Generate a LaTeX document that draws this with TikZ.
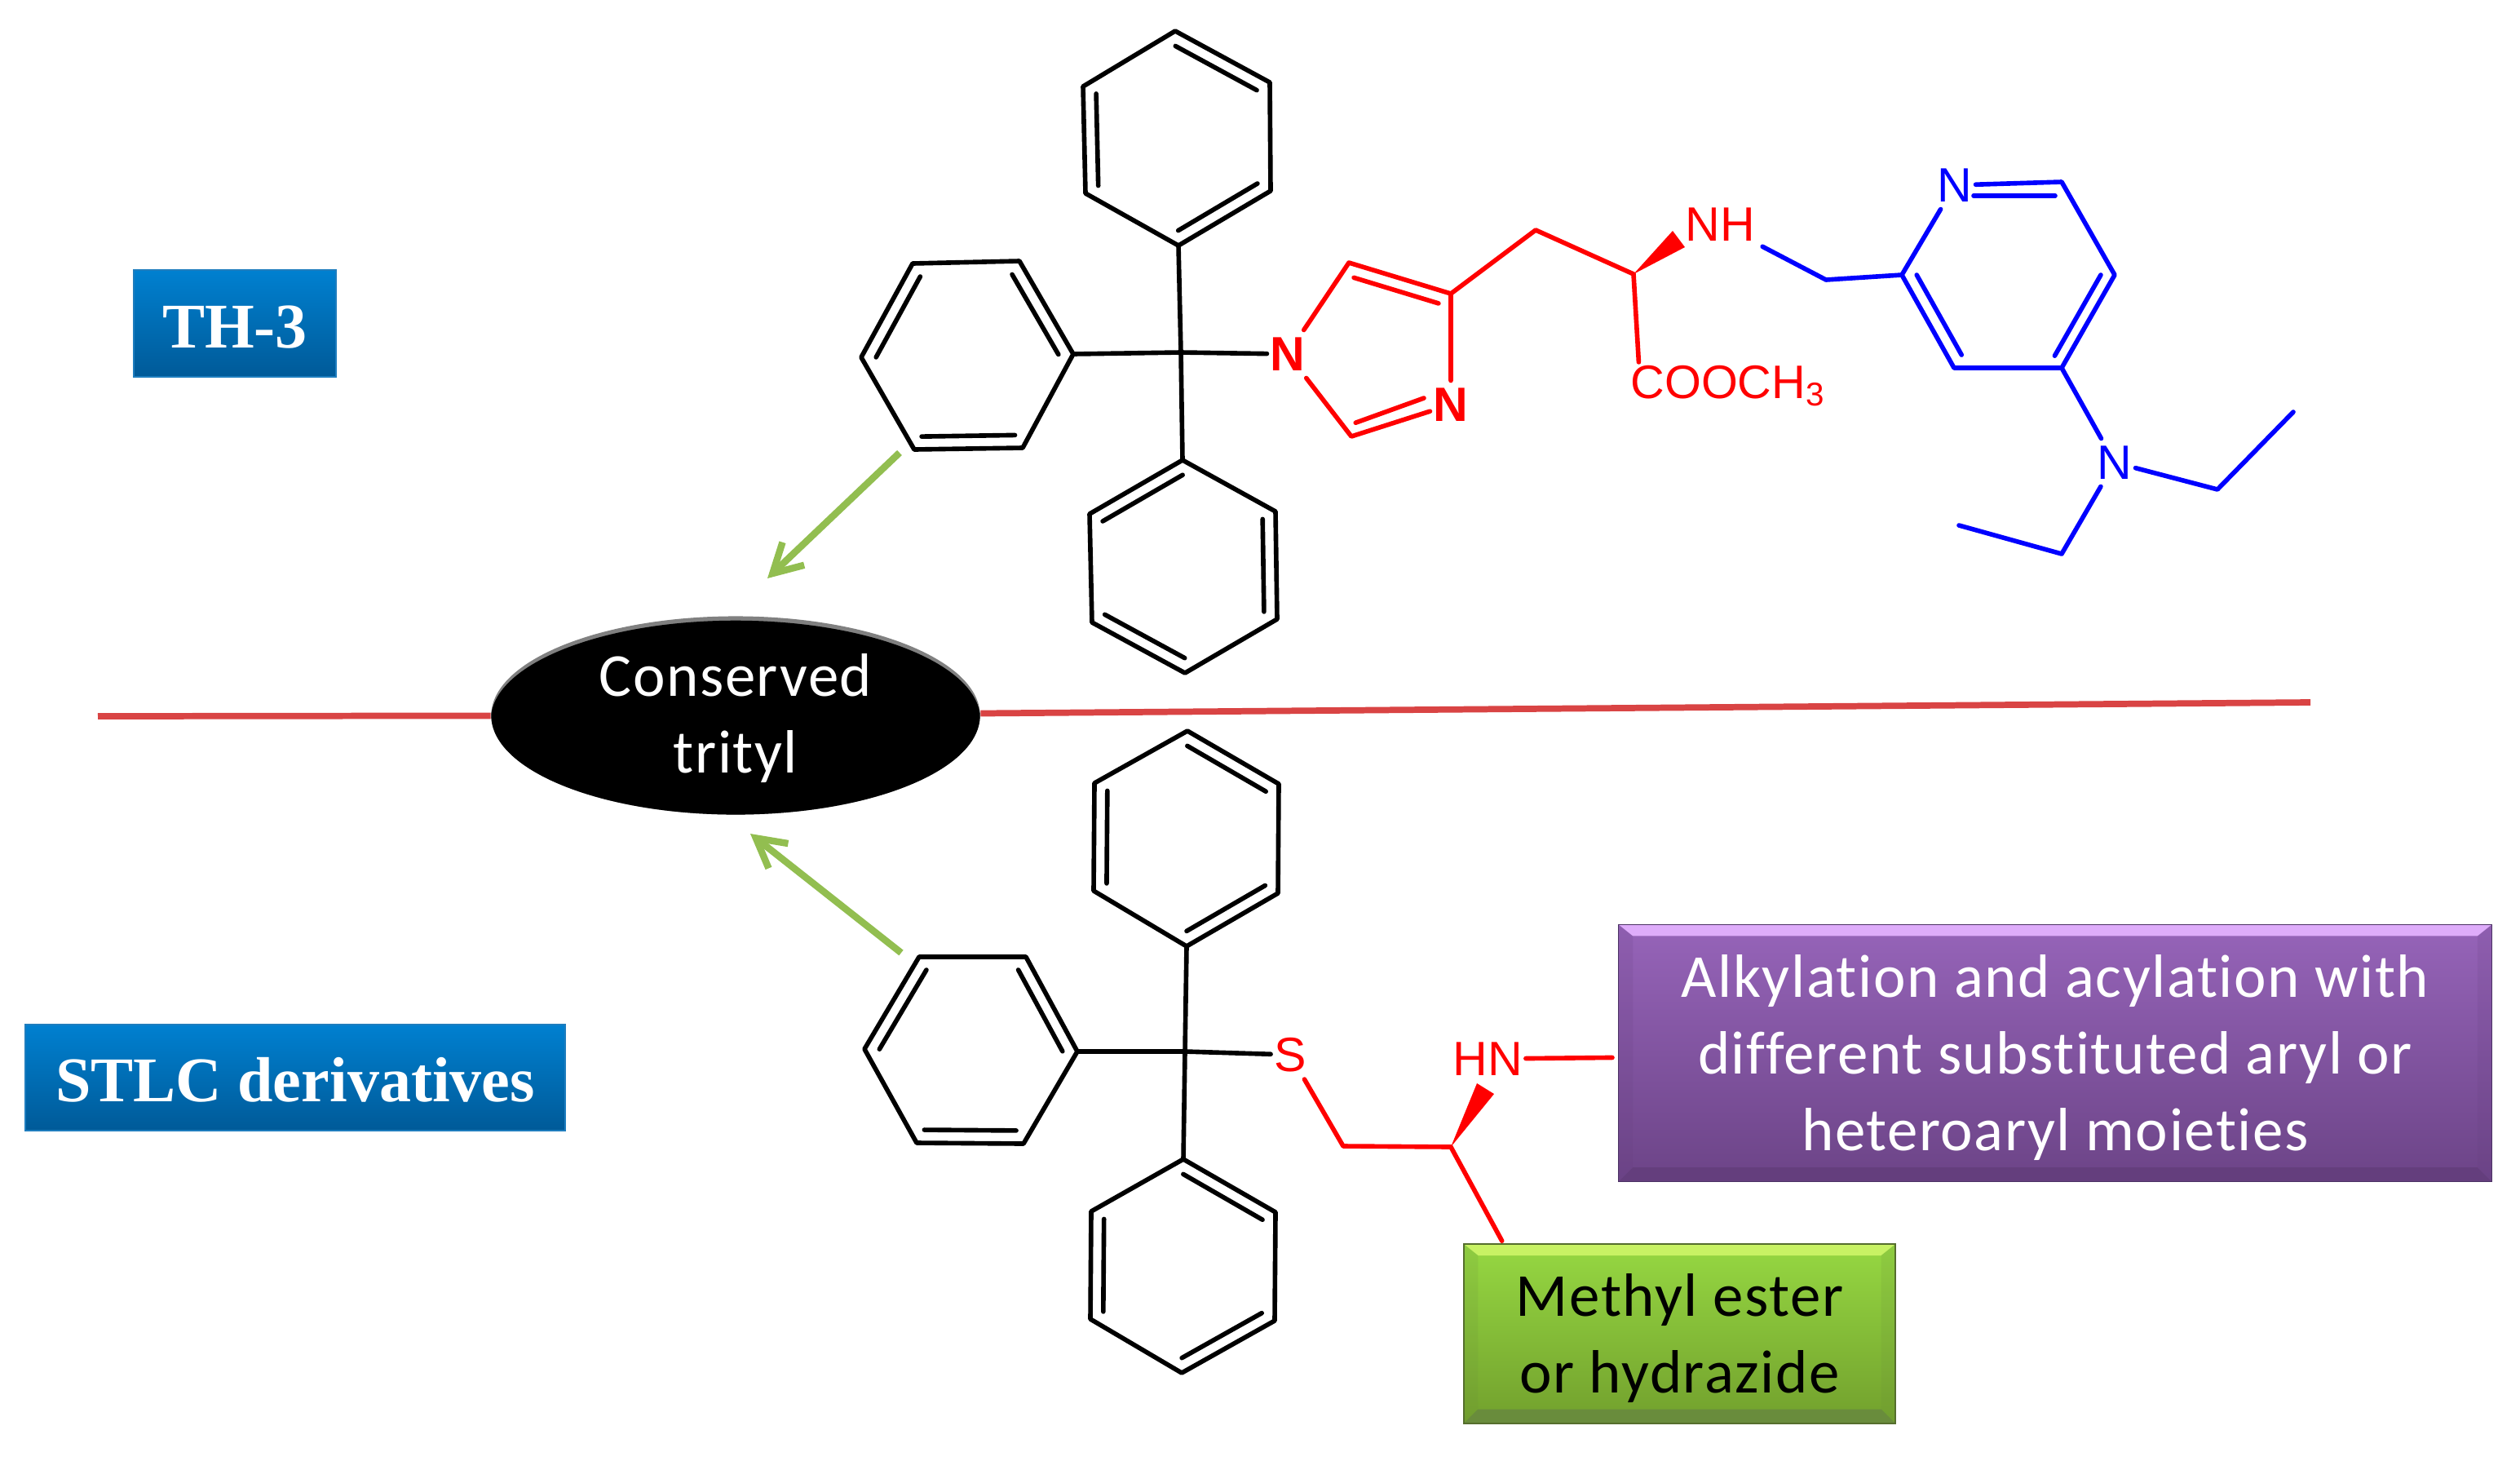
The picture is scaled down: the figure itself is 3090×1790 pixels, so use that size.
\documentclass[tikz,border=0pt]{standalone}
\usepackage{fontspec}
\setmainfont[LetterSpace=2.1,Ligatures=NoCommon]{Carlito}
\newfontfamily\molfont{Liberation Sans}
\newfontfamily\tagfont{Liberation Serif}
\usetikzlibrary{calc,shapes.geometric,arrows.meta}
\definecolor{divred}{RGB}{217,68,68}
\definecolor{arrowgreen}{RGB}{146,190,80}
\definecolor{purered}{RGB}{255,0,0}
\definecolor{pureblue}{RGB}{0,0,255}
\definecolor{tagtop}{RGB}{0,128,208}
\definecolor{tagbottom}{RGB}{0,90,152}
\definecolor{tagedge}{RGB}{30,125,190}
\definecolor{plumtop}{RGB}{150,100,185}
\definecolor{plumbottom}{RGB}{108,68,135}
\definecolor{plumlight}{RGB}{222,172,250}
\definecolor{plumdark}{RGB}{100,62,125}
\definecolor{plumedge}{RGB}{75,50,100}
\definecolor{limetop}{RGB}{150,216,66}
\definecolor{limebottom}{RGB}{114,160,45}
\definecolor{limelight}{RGB}{200,242,100}
\definecolor{limedark}{RGB}{105,140,60}
\definecolor{limeedge}{RGB}{85,110,45}

\begin{document}
\begin{tikzpicture}[x=0.01cm, y=-0.01cm,
        bond/.style = {line width=1.6pt, line cap=round, line join=round, draw=black},
        redbond/.style = {bond, draw=purered},
        bluebond/.style = {bond, draw=pureblue},
        atom/.style = {font=\molfont\fontsize{16.8}{16.8}\selectfont, inner xsep=1pt, inner ysep=2.4pt},
        redatom/.style = {atom, text=purered},
        blueatom/.style = {atom, text=pureblue},
        boldatom/.style = {redatom, font=\molfont\bfseries\fontsize{16.8}{16.8}\selectfont},
        tagbox/.style = {rectangle, draw=tagedge, line width=0.4pt, top color=tagtop, bottom color=tagbottom, text=white, text height=17pt, font=\tagfont\bfseries\fontsize{22.2}{24}\selectfont},
        bevelled/.style 2 args = {path picture={
            \fill[#1] (path picture bounding box.north west) -- (path picture bounding box.north east) -- ([xshift=-5pt,yshift=-4pt]path picture bounding box.north east) -- ([xshift=5pt,yshift=-4pt]path picture bounding box.north west) -- cycle;
            \fill[#2] (path picture bounding box.south west) -- (path picture bounding box.south east) -- ([xshift=-5pt,yshift=5pt]path picture bounding box.south east) -- ([xshift=5pt,yshift=5pt]path picture bounding box.south west) -- cycle;
            \fill[#2, opacity=0.15] (path picture bounding box.north west) -- ([xshift=5pt,yshift=-4pt]path picture bounding box.north west) -- ([xshift=5pt,yshift=5pt]path picture bounding box.south west) -- (path picture bounding box.south west) -- cycle;
            \fill[#2, opacity=0.15] (path picture bounding box.north east) -- ([xshift=-5pt,yshift=-4pt]path picture bounding box.north east) -- ([xshift=-5pt,yshift=5pt]path picture bounding box.south east) -- (path picture bounding box.south east) -- cycle;}},
        notebox/.style = {rectangle, align=center, inner sep=0pt, font=\fontsize{21.3}{26.8}\selectfont},
        divider/.style = {draw=divred, line width=2.2pt},
        pointer/.style = {draw=arrowgreen, line width=2.4pt, -{Straight Barb[length=10pt,width=11pt,line width=2.4pt]}}]
    \useasboundingbox (0,0) rectangle (3090,1790);

    \node[tagbox, minimum width=2.48cm, minimum height=1.31cm] (th3) at (288,396.5) {TH-3};
    \node[tagbox, minimum width=6.62cm, minimum height=1.30cm] (stlc) at (362,1321) {STLC derivatives};
    \node[notebox, ellipse, fill=black!50, text=white, minimum width=5.99cm, minimum height=2.43cm, path picture={\fill[black] ([yshift=-1.5pt]path picture bounding box.center) ellipse [x radius=3.0cm, y radius=1.215cm];}] (trityl) at (902,877) {\rule{0pt}{16.8pt}Conserved\\trityl};
    \node[notebox, text=white, draw=plumedge, top color=plumtop, bottom color=plumbottom, bevelled={plumlight}{plumdark}, minimum width=10.70cm, minimum height=3.15cm] (purple) at (2520,1291) {\rule{0pt}{17.8pt}Alkylation and acylation with\\different substituted aryl or\\heteroaryl moieties};
    \node[notebox, text=black, draw=limeedge, top color=limetop, bottom color=limebottom, bevelled={limelight}{limedark}, minimum width=5.29cm, minimum height=2.20cm] (green) at (2059.5,1635) {\rule{0pt}{17.8pt}Methyl ester\\or hydrazide};

    \coordinate (la) at (120,878);
    \coordinate (lb) at (2833,861);
    \draw[divider] (la) -- (trityl) -- (lb);
    \coordinate (g1) at (1103,555);
    \coordinate (g2) at (941,709);
    \coordinate (g3) at (1105,1168);
    \coordinate (g4) at (920,1022);
    \draw[pointer] (g1) -- (g2);
    \draw[pointer] (g3) -- (g4);

    \coordinate (c1) at (1448,432);
    \coordinate (tc) at (1443,169.5);
    \coordinate (t1) at (1441,38); \coordinate (t2) at (1557,101); \coordinate (t3) at (1558,234);
    \coordinate (t4) at (1445,301); \coordinate (t5) at (1331,237); \coordinate (t6) at (1328,106);
    \draw[bond] (t1) -- (t2) -- (t3) -- (t4) -- (t5) -- (t6) -- cycle;
    \draw[bond] ($(tc)!.86!(t1)$) -- ($(tc)!.86!(t2)$);
    \draw[bond] ($(tc)!.86!(t3)$) -- ($(tc)!.86!(t4)$);
    \draw[bond] ($(tc)!.86!(t5)$) -- ($(tc)!.86!(t6)$);
    \coordinate (lc) at (1186,437.5);
    \coordinate (l1) at (1119,323); \coordinate (l2) at (1250,320); \coordinate (l3) at (1316,434);
    \coordinate (l4) at (1254,549); \coordinate (l5) at (1121,551); \coordinate (l6) at (1056,438);
    \draw[bond] (l1) -- (l2) -- (l3) -- (l4) -- (l5) -- (l6) -- cycle;
    \draw[bond] ($(lc)!.86!(l2)$) -- ($(lc)!.86!(l3)$);
    \draw[bond] ($(lc)!.86!(l4)$) -- ($(lc)!.86!(l5)$);
    \draw[bond] ($(lc)!.86!(l6)$) -- ($(lc)!.86!(l1)$);
    \coordinate (bc) at (1451,694);
    \coordinate (b1) at (1450,564); \coordinate (b2) at (1564,627); \coordinate (b3) at (1566,759);
    \coordinate (b4) at (1453,825); \coordinate (b5) at (1339,763); \coordinate (b6) at (1336,630);
    \draw[bond] (b1) -- (b2) -- (b3) -- (b4) -- (b5) -- (b6) -- cycle;
    \draw[bond] ($(bc)!.86!(b2)$) -- ($(bc)!.86!(b3)$);
    \draw[bond] ($(bc)!.86!(b4)$) -- ($(bc)!.86!(b5)$);
    \draw[bond] ($(bc)!.86!(b6)$) -- ($(bc)!.86!(b1)$);

    \node[boldatom] (n1) at (1579,434) {N};
    \node[boldatom] (n3) at (1779,496) {N};
    \node[redatom, inner xsep=2.5pt] (nh) at (2109,275) {NH};
    \node[redatom, inner sep=1pt, font=\molfont\fontsize{16.4}{16.4}\selectfont] (cooch) at (2119,473) {COOCH\textsubscript{3}};
    \coordinate (im) at (1690,430);
    \coordinate (c5) at (1654,322); \coordinate (c4) at (1779,360); \coordinate (c2) at (1657,535);
    \coordinate (c6) at (1883,282); \coordinate (c7) at (2003,336);
    \coordinate (i1) at (1746,488); \coordinate (w1) at (2051,283); \coordinate (w2) at (2066,303);
    \draw[bond] (t4) -- (c1);
    \draw[bond] (l3) -- (c1);
    \draw[bond] (b1) -- (c1);
    \draw[bond] (c1) -- (n1);
    \draw[redbond] (n1) -- (c5) -- (c4) -- (n3);
    \draw[redbond] (n1) -- (c2) -- (n3);
    \draw[redbond] ($(im)!.83!(c5)$) -- ($(im)!.83!(c4)$);
    \draw[redbond] ($(im)!.84!(c2)$) -- (i1);
    \draw[redbond] (c4) -- (c6) -- (c7);
    \draw[redbond] (c7) -- ([xshift=4pt]cooch.north west);
    \fill[purered] (c7) -- (w1) -- (w2) -- cycle;

    \node[blueatom] (py) at (2397,227) {N};
    \node[blueatom] (na) at (2593,567) {N};
    \coordinate (pc) at (2462,337);
    \coordinate (p2) at (2332,337); \coordinate (p3) at (2396,451); \coordinate (p4) at (2528,451);
    \coordinate (p5) at (2593,337); \coordinate (p6) at (2528,223);
    \coordinate (q1) at (2420,240); \coordinate (q2) at (2520,240);
    \coordinate (d1) at (2239,343);
    \coordinate (e1) at (2719,600); \coordinate (e2) at (2812,505);
    \coordinate (e3) at (2528,679); \coordinate (e4) at (2402,644);
    \draw[bluebond] (nh) -- (d1) -- (p2);
    \draw[bluebond] (py) -- (p2) -- (p3) -- (p4) -- (p5) -- (p6) -- (py);
    \draw[bluebond] (q1) -- (q2);
    \draw[bluebond] ($(pc)!.86!(p2)$) -- ($(pc)!.86!(p3)$);
    \draw[bluebond] ($(pc)!.87!(p4)$) -- ($(pc)!.87!(p5)$);
    \draw[bluebond] (p4) -- (na);
    \draw[bluebond] (na) -- (e1) -- (e2);
    \draw[bluebond] (na) -- (e3) -- (e4);

    \coordinate (c9) at (1453,1289);
    \coordinate (uc) at (1455,1027);
    \coordinate (u1) at (1456,896); \coordinate (u2) at (1568,961); \coordinate (u3) at (1567,1095);
    \coordinate (u4) at (1455,1160); \coordinate (u5) at (1341,1092); \coordinate (u6) at (1342,960);
    \draw[bond] (u1) -- (u2) -- (u3) -- (u4) -- (u5) -- (u6) -- cycle;
    \draw[bond] ($(uc)!.86!(u1)$) -- ($(uc)!.86!(u2)$);
    \draw[bond] ($(uc)!.86!(u3)$) -- ($(uc)!.86!(u4)$);
    \draw[bond] ($(uc)!.86!(u5)$) -- ($(uc)!.86!(u6)$);
    \coordinate (vc) at (1191,1287);
    \coordinate (v1) at (1127,1173); \coordinate (v2) at (1258,1173); \coordinate (v3) at (1321,1289);
    \coordinate (v4) at (1255,1402); \coordinate (v5) at (1124,1401); \coordinate (v6) at (1060,1286);
    \draw[bond] (v1) -- (v2) -- (v3) -- (v4) -- (v5) -- (v6) -- cycle;
    \draw[bond] ($(vc)!.86!(v2)$) -- ($(vc)!.86!(v3)$);
    \draw[bond] ($(vc)!.86!(v4)$) -- ($(vc)!.86!(v5)$);
    \draw[bond] ($(vc)!.86!(v6)$) -- ($(vc)!.86!(v1)$);
    \coordinate (xc) at (1450,1552);
    \coordinate (x1) at (1451,1421); \coordinate (x2) at (1564,1486); \coordinate (x3) at (1563,1619);
    \coordinate (x4) at (1449,1683); \coordinate (x5) at (1337,1617); \coordinate (x6) at (1338,1485);
    \draw[bond] (x1) -- (x2) -- (x3) -- (x4) -- (x5) -- (x6) -- cycle;
    \draw[bond] ($(xc)!.86!(x1)$) -- ($(xc)!.86!(x2)$);
    \draw[bond] ($(xc)!.86!(x3)$) -- ($(xc)!.86!(x4)$);
    \draw[bond] ($(xc)!.86!(x5)$) -- ($(xc)!.86!(x6)$);

    \node[redatom] (s1) at (1582,1293) {S};
    \node[redatom] (hn) at (1824,1298) {HN};
    \coordinate (s2) at (1647,1405); \coordinate (s3) at (1779,1406);
    \coordinate (w3) at (1811,1328); \coordinate (w4) at (1832,1341);
    \draw[bond] (u4) -- (c9);
    \draw[bond] (v3) -- (c9);
    \draw[bond] (x1) -- (c9);
    \draw[bond] (c9) -- (s1);
    \draw[redbond] (s1) -- (s2) -- (s3);
    \draw[redbond, shorten >=1pt] (s3) -- ([xshift=14pt]green.north west);
    \draw[redbond, shorten >=2pt] (hn) -- (purple);
    \fill[purered] (s3) -- (w3) -- (w4) -- cycle;
\end{tikzpicture}
\end{document}
